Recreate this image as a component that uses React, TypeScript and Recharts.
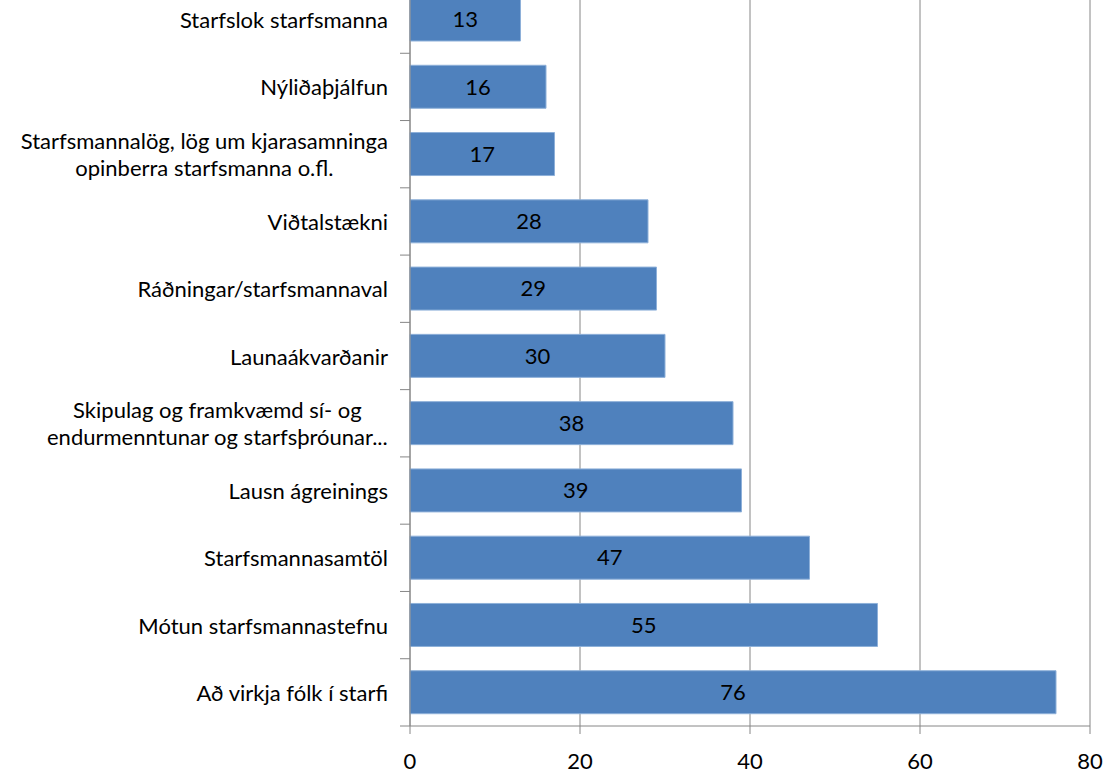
import React from 'react';
import { BarChart, Bar, XAxis, YAxis, CartesianGrid, LabelList } from 'recharts';

const categories: string[][] = [
  ['Starfslok starfsmanna'],
  ['Nýliðaþjálfun'],
  ['Starfsmannalög, lög um kjarasamninga', 'opinberra starfsmanna o.fl.'],
  ['Viðtalstækni'],
  ['Ráðningar/starfsmannaval'],
  ['Launaákvarðanir'],
  ['Skipulag og framkvæmd sí- og', 'endurmenntunar og starfsþróunar...'],
  ['Lausn ágreinings'],
  ['Starfsmannasamtöl'],
  ['Mótun starfsmannastefnu'],
  ['Að virkja fólk í starfi'],
];
const values: number[] = [13, 16, 17, 28, 29, 30, 38, 39, 47, 55, 76];
const xTicks: number[] = [0, 20, 40, 60, 80];

const data = categories.map((lines, i) => ({ name: lines.join('\n'), value: values[i] }));

const FONT = 'Lato, "Open Sans", sans-serif';
const FONT_SIZE = 22;
const CHART_W = 1109;
const CHART_H = 790;
const Y_AXIS_W = 410;
const X_AXIS_H = 50;
const PLOT_H = CHART_H - X_AXIS_H;
const BAND = PLOT_H / categories.length;
const AXIS_COLOR = '#868686';
const TEXT_COLOR = '#000';

let ctx: CanvasRenderingContext2D | null = null;
function measure(t: string): number {
  if (!ctx) {
    const c = document.createElement('canvas');
    ctx = c.getContext('2d');
  }
  if (!ctx) return t.length * FONT_SIZE * 0.5;
  ctx.font = `${FONT_SIZE}px ${FONT}`;
  return ctx.measureText(t).width;
}

const CategoryTick = (props: any) => {
  const { x, y, payload } = props;
  const lines: string[] = String(payload.value).split('\n');
  const right = x - 22;
  const lineH = 27;
  const startY = y - ((lines.length - 1) * lineH) / 2;
  let anchor: 'end' | 'middle' = 'end';
  let tx = right;
  if (lines.length > 1) {
    const maxW = Math.max(...lines.map(measure));
    anchor = 'middle';
    tx = right - maxW / 2;
  }
  return (
    <g>
      <line x1={x - 10} x2={x} y1={y + BAND / 2} y2={y + BAND / 2} stroke={AXIS_COLOR} strokeWidth={1} />
      {lines.map((l, i) => (
        <text
          key={i}
          x={tx}
          y={startY + i * lineH}
          textAnchor={anchor}
          dominantBaseline="central"
          fontFamily={FONT}
          fontSize={FONT_SIZE}
          fill={TEXT_COLOR}
        >
          {l}
        </text>
      ))}
    </g>
  );
};

export default function App() {
  return (
    <div style={{ position: 'absolute', left: 0, top: 0, width: CHART_W, height: 776, overflow: 'hidden', background: '#fff' }}>
      <div style={{ position: 'absolute', left: 0, top: -14 }}>
        <BarChart
          width={CHART_W}
          height={CHART_H}
          data={data}
          layout="vertical"
          margin={{ top: 0, right: 19, bottom: 0, left: 0 }}
          barSize={43}
        >
          <CartesianGrid horizontal={false} vertical={true} stroke={AXIS_COLOR} strokeWidth={1} />
          <XAxis
            type="number"
            domain={[0, 80]}
            ticks={xTicks}
            height={X_AXIS_H}
            tickSize={8}
            tickMargin={19}
            axisLine={{ stroke: AXIS_COLOR }}
            tickLine={{ stroke: AXIS_COLOR }}
            tick={{ fill: TEXT_COLOR, fontSize: FONT_SIZE, fontFamily: FONT }}
            interval={0}
          />
          <YAxis
            type="category"
            dataKey="name"
            width={Y_AXIS_W}
            axisLine={{ stroke: AXIS_COLOR }}
            tickLine={false}
            tickSize={0}
            tickMargin={0}
            tick={<CategoryTick />}
            interval={0}
          />
          <Bar dataKey="value" fill="#4F81BD" stroke="#8EB0D9" strokeWidth={1} isAnimationActive={false}>
            <LabelList dataKey="value" position="center" fill={TEXT_COLOR} fontSize={FONT_SIZE} fontFamily={FONT} />
          </Bar>
        </BarChart>
      </div>
    </div>
  );
}
